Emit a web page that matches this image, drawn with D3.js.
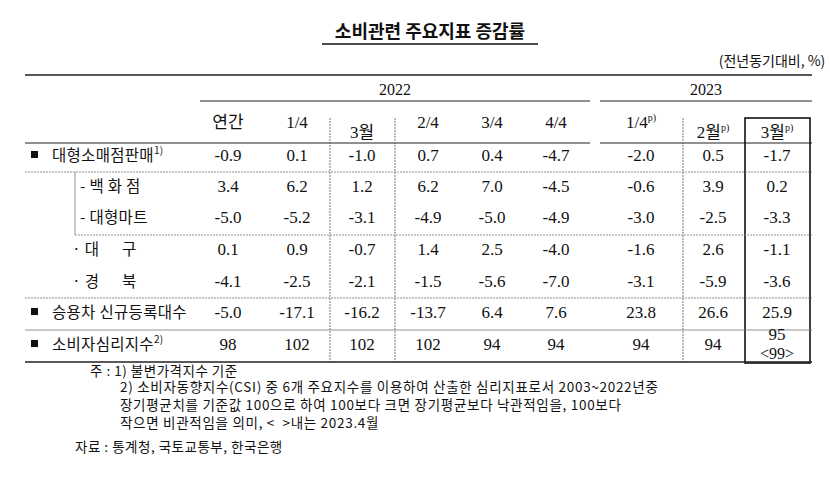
<!DOCTYPE html><html><head><meta charset="utf-8">
<script src="https://cdn.jsdelivr.net/npm/d3@7"></script>
<style>body{margin:0;background:#fff}text{font-family:"Liberation Serif","Noto Sans CJK KR",serif;fill:#111}</style></head><body>
<svg id="c" width="830" height="483"></svg>
<script>
const title="소비관련 주요지표 증감률";
const unit="(전년동기대비, %)";
const years=["2022","2023"];
const colLabels=["연간","1/4","3월","2/4","3/4","4/4","1/4","2월","3월"];
const colSup=["","","","","","","p)","p)","p)"];
const rowLabels=["대형소매점판매","- 백 화 점","- 대형마트","· 대      구","· 경      북","승용차 신규등록대수","소비자심리지수"];
const rowSup=["1)","","","","","","2)"];
const rowBullet=[true,false,false,false,false,true,true];
const rowIndent=[0,1,1,2,2,0,0];
const values=[
["-0.9","0.1","-1.0","0.7","0.4","-4.7","-2.0","0.5","-1.7"],
["3.4","6.2","1.2","6.2","7.0","-4.5","-0.6","3.9","0.2"],
["-5.0","-5.2","-3.1","-4.9","-5.0","-4.9","-3.0","-2.5","-3.3"],
["0.1","0.9","-0.7","1.4","2.5","-4.0","-1.6","2.6","-1.1"],
["-4.1","-2.5","-2.1","-1.5","-5.6","-7.0","-3.1","-5.9","-3.6"],
["-5.0","-17.1","-16.2","-13.7","6.4","7.6","23.8","26.6","25.9"],
["98","102","102","102","94","94","94","94","95"]];
const notes=["주 : 1) 불변가격지수 기준",
"2) 소비자동향지수(CSI) 중 6개 주요지수를 이용하여 산출한 심리지표로서 2003~2022년중",
"장기평균치를 기준값 100으로 하여 100보다 크면 장기평균보다 낙관적임을, 100보다",
"작으면 비관적임을 의미, <  >내는 2023.4월",
"자료 : 통계청, 국토교통부, 한국은행"];

const svg=d3.select("#c");
const cx=[228,297,362,428,492,556,641,713,777];
const colX=d3.scaleOrdinal().domain(d3.range(9)).range(cx);
const rowY=d3.scaleOrdinal().domain(d3.range(7)).range([161,192,223,255,287,318,350]);
const L=25,R=812;
const kr='"Noto Sans CJK KR",sans-serif';
svg.append("text").attr("x",430).attr("y",38).attr("text-anchor","middle").style("font-family",kr).style("font-weight","bold").style("font-size","18px").text(title);
svg.append("line").attr("x1",322).attr("x2",538).attr("y1",44).attr("y2",44).attr("stroke","#111").attr("stroke-width",1.3);
svg.append("text").attr("x",R-40).attr("y",66).attr("text-anchor","middle").style("font-family",kr).style("font-size","14px").text(unit);
const ln=(x1,y1,x2,y2,w,dash,c)=>svg.append("line").attr("x1",x1).attr("y1",y1).attr("x2",x2).attr("y2",y2).attr("stroke",c||"#222").attr("stroke-width",w).attr("stroke-dasharray",dash||null);
ln(L,75,R,75,1.6);
svg.append("text").attr("x",395).attr("y",95).attr("text-anchor","middle").style("font-size","16px").text(years[0]);
svg.append("text").attr("x",706).attr("y",95).attr("text-anchor","middle").style("font-size","16px").text(years[1]);
ln(200,101,590,101,1.2);ln(600,101,R,101,1.2);
colLabels.forEach((t,i)=>{
 const sub=(i===2||i===7||i===8);
 const tx=svg.append("text").attr("x",colX(i)).attr("y",sub?138:128).attr("text-anchor","middle").style("font-size","17px").text(t);
 if(colSup[i]) tx.append("tspan").attr("dy",-7).style("font-size","10px").text(colSup[i]);
});
ln(L,143,590,143,1.2);ln(600,143,R,143,1.2);
ln(330,118,330,362,0.8,"2,1","#555");ln(395,118,395,362,0.8,"2,1","#555");
ln(683,118,683,362,0.8,"2,1","#555");
svg.append("rect").attr("x",745).attr("y",118).attr("width",65).attr("height",245).attr("fill","none").attr("stroke","#111").attr("stroke-width",1.6);
ln(L,172,R,172,0.8,"2,1","#777");
ln(75,172,75,235,0.8,null,"#777");ln(75,235,R,235,0.8,"2,1","#777");
ln(L,298,R,298,0.8,"2,1","#777");
ln(L,330,R,330,0.8,null,"#777");
ln(L,362,R,362,1.6);
rowLabels.forEach((t,r)=>{
 const y=rowY(r);
 if(rowBullet[r]) svg.append("rect").attr("x",31).attr("y",y-10).attr("width",7).attr("height",7).attr("fill","#111");
 const lx=[52,80,72][rowIndent[r]];
 const tx=svg.append("text").attr("x",lx).attr("y",y).style("font-family",kr).style("font-size","15.5px").style("letter-spacing","0.3px").attr("xml:space","preserve").text(t);
 if(rowSup[r]) tx.append("tspan").attr("dy",-7).style("font-size","10px").text(rowSup[r]);
 values[r].forEach((v,i)=>{
  svg.append("text").attr("x",colX(i)).attr("y",(r===6&&i===8)?y-10:y).attr("text-anchor","middle").style("font-size","17px").text(v);
 });
});
svg.append("text").attr("x",colX(8)).attr("y",359).attr("text-anchor","middle").style("font-size","16px").text("<99>");
const nx=[90,120,120,120,75],ny=[376,392,410,428,452];
notes.forEach((t,i)=>svg.append("text").attr("x",nx[i]).attr("y",ny[i]).style("font-family",kr).style("font-size","13.5px").style("letter-spacing",i>0&&i<4?"0.7px":"0.5px").attr("xml:space","preserve").text(t));
</script></body></html>
